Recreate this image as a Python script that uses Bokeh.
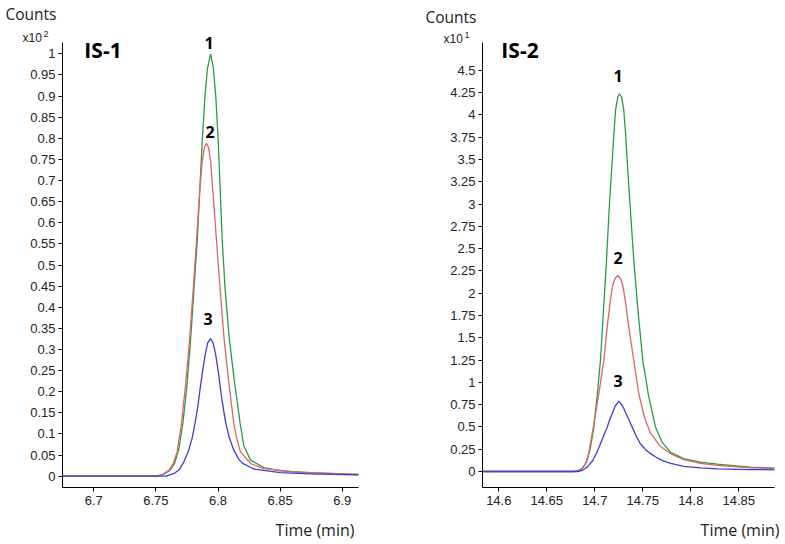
from bokeh.plotting import figure
from bokeh.layouts import row
from bokeh.models import Label, FixedTicker, Range1d
from bokeh.embed import file_html
from bokeh.resources import INLINE

# ---------------- data ----------------
# IS-1 : time (min) and counts (x10^2)
is1_green_t = [6.6748, 6.7500, 6.7560, 6.7610, 6.7650, 6.7685, 6.7717, 6.7750, 6.7779, 6.7806,
               6.7833, 6.7853, 6.7873, 6.7895, 6.7915, 6.7940, 6.7962, 6.7982, 6.8002, 6.8018,
               6.8034, 6.8058, 6.8092, 6.8132, 6.8178, 6.8208, 6.8262, 6.8369, 6.8503, 6.8771, 6.9131]
is1_green_v = [0.0, 0.0, 0.004, 0.013, 0.030, 0.065, 0.125, 0.215, 0.322, 0.440,
               0.558, 0.676, 0.794, 0.900, 0.965, 1.000, 0.968, 0.900, 0.794, 0.676,
               0.558, 0.440, 0.322, 0.225, 0.125, 0.072, 0.038, 0.0205, 0.0125, 0.008, 0.004]

is1_red_t = [6.6748, 6.7500, 6.7550, 6.7604, 6.7640, 6.7671, 6.7706, 6.7740, 6.7771, 6.7800,
             6.7827, 6.7853, 6.7873, 6.7890, 6.7907, 6.7924, 6.7941, 6.7958, 6.7988, 6.8018,
             6.8050, 6.8088, 6.8127, 6.8150, 6.8181, 6.8262, 6.8369, 6.8638, 6.9131]
is1_red_v = [0.0, 0.0, 0.004, 0.014, 0.030, 0.058, 0.125, 0.220, 0.322, 0.440,
             0.558, 0.676, 0.745, 0.778, 0.788, 0.778, 0.745, 0.676, 0.558, 0.440,
             0.322, 0.220, 0.125, 0.090, 0.058, 0.030, 0.018, 0.0095, 0.004]

is1_blue_t = [6.6748, 6.7580, 6.7644, 6.7690, 6.7725, 6.7760, 6.7792, 6.7815, 6.7837, 6.7855,
              6.7873, 6.7898, 6.7918, 6.7940, 6.7960, 6.7980, 6.8002, 6.8030, 6.8060, 6.8090,
              6.8125, 6.8165, 6.8195, 6.8288, 6.8503, 6.8800, 6.9131]
is1_blue_v = [0.0, 0.0, 0.006, 0.016, 0.034, 0.058, 0.090, 0.125, 0.164, 0.205,
              0.243, 0.290, 0.316, 0.3255, 0.316, 0.290, 0.248, 0.185, 0.130, 0.092,
              0.063, 0.041, 0.031, 0.017, 0.0087, 0.005, 0.003]

# IS-2 : time (min) and counts (x10^1)
is2_green_t = [14.5830, 14.6780, 14.6833, 14.6880, 14.6920, 14.6955, 14.6990, 14.7025, 14.7059, 14.7090,
               14.7122, 14.7150, 14.7181, 14.7200, 14.7216, 14.7240, 14.7258, 14.7280, 14.7302, 14.7320,
               14.7337, 14.7370, 14.7406, 14.7450, 14.7500, 14.7560, 14.7632, 14.7700, 14.7790, 14.7925,
               14.8100, 14.8275, 14.8620, 14.8872]
is2_green_v = [0.0, 0.0, 0.011, 0.045, 0.123, 0.270, 0.497, 0.850, 1.245, 1.800,
               2.367, 2.950, 3.489, 3.800, 4.050, 4.200, 4.237, 4.200, 4.050, 3.800,
               3.489, 2.950, 2.367, 1.800, 1.245, 0.850, 0.500, 0.330, 0.215, 0.145,
               0.105, 0.082, 0.050, 0.038]

is2_red_t = [14.5830, 14.6790, 14.6850, 14.6900, 14.6935, 14.6985, 14.7042, 14.7094, 14.7129, 14.7160,
             14.7185, 14.7210, 14.7240, 14.7268, 14.7293, 14.7320, 14.7354, 14.7406, 14.7458, 14.7520,
             14.7580, 14.7685, 14.7790, 14.7925, 14.8100, 14.8275, 14.8620, 14.8872]
is2_red_v = [0.0, 0.0, 0.015, 0.080, 0.198, 0.497, 0.872, 1.245, 1.619, 1.900,
             2.080, 2.165, 2.199, 2.165, 2.080, 1.900, 1.619, 1.245, 0.872, 0.600,
             0.430, 0.280, 0.200, 0.133, 0.090, 0.068, 0.042, 0.035]

is2_blue_t = [14.5830, 14.6820, 14.6870, 14.6930, 14.6979, 14.7020, 14.7059, 14.7095, 14.7129, 14.7155,
              14.7181, 14.7210, 14.7250, 14.7290, 14.7327, 14.7360, 14.7390, 14.7430, 14.7474, 14.7530,
              14.7580, 14.7640, 14.7700, 14.7790, 14.7925, 14.8100, 14.8275, 14.8600, 14.8872]
is2_blue_v = [0.0, 0.0, 0.012, 0.060, 0.123, 0.210, 0.311, 0.410, 0.497, 0.580,
              0.647, 0.730, 0.789, 0.735, 0.647, 0.570, 0.497, 0.400, 0.311, 0.245,
              0.200, 0.160, 0.125, 0.090, 0.058, 0.040, 0.030, 0.022, 0.019]

is1_y_ticks = [0, 0.05, 0.1, 0.15, 0.2, 0.25, 0.3, 0.35, 0.4, 0.45, 0.5,
               0.55, 0.6, 0.65, 0.7, 0.75, 0.8, 0.85, 0.9, 0.95, 1]
is1_y_labels = ["0", "0.05", "0.1", "0.15", "0.2", "0.25", "0.3", "0.35", "0.4", "0.45", "0.5",
                "0.55", "0.6", "0.65", "0.7", "0.75", "0.8", "0.85", "0.9", "0.95", "1"]
is1_x_ticks = [6.7, 6.75, 6.8, 6.85, 6.9]
is1_x_labels = ["6.7", "6.75", "6.8", "6.85", "6.9"]

is2_y_ticks = [0, 0.25, 0.5, 0.75, 1, 1.25, 1.5, 1.75, 2, 2.25, 2.5,
               2.75, 3, 3.25, 3.5, 3.75, 4, 4.25, 4.5]
is2_y_labels = ["0", "0.25", "0.5", "0.75", "1", "1.25", "1.5", "1.75", "2", "2.25", "2.5",
                "2.75", "3", "3.25", "3.5", "3.75", "4", "4.25", "4.5"]
is2_x_ticks = [14.6, 14.65, 14.7, 14.75, 14.8, 14.85]
is2_x_labels = ["14.6", "14.65", "14.7", "14.75", "14.8", "14.85"]

peak_labels = ["1", "2", "3"]

GREEN = "#2a9a48"
RED = "#e06464"
BLUE = "#3c3cdc"
TICK_FONT = "Liberation Sans"
TEXT_FONT = "Open Sans"

FIG_TOP = 0          # canvas top in picture pixels
FIG_H = 540
AX_TOP, AX_BOTTOM = 42, 487   # picture pixels of the axis box


class Panel:
    """Maps picture pixels to data for one figure whose frame fills the whole canvas."""
    def __init__(self, cx0, width, ax_left, ax_right, x_anchor_px, x_anchor_val, x_ppu,
                 y_zero_px, y_ppu):
        self.cx0, self.width = cx0, width
        self.x_ppu, self.y_ppu = x_ppu, y_ppu
        self.x_anchor_px, self.x_anchor_val = x_anchor_px, x_anchor_val
        self.y_zero_px = y_zero_px
        self.xr = (self.px2x(cx0), self.px2x(cx0 + width))
        self.yr = (self.py2y(FIG_TOP + FIG_H), self.py2y(FIG_TOP))
        self.xb = (self.px2x(ax_left), self.px2x(ax_right))
        self.yb = (self.py2y(AX_BOTTOM), self.py2y(AX_TOP))

    def px2x(self, px):
        return self.x_anchor_val + (px - self.x_anchor_px) / self.x_ppu

    def py2y(self, py):
        return (self.y_zero_px - py) / self.y_ppu


def make_fig(pan, x_ticks, x_labels, y_ticks, y_labels):
    p = figure(width=pan.width, height=FIG_H,
               x_range=Range1d(*pan.xr), y_range=Range1d(*pan.yr),
               output_backend="svg", toolbar_location=None,
               min_border_left=0, min_border_right=0, min_border_top=0, min_border_bottom=0)
    p.outline_line_color = None
    p.grid.visible = False
    p.background_fill_color = "white"
    p.border_fill_color = "white"
    for ax in (p.xaxis[0], p.yaxis[0]):
        ax.axis_line_color = "black"
        ax.axis_line_width = 1
        ax.major_tick_line_color = "black"
        ax.major_tick_in = 0
        ax.major_tick_out = 4
        ax.minor_tick_line_color = None
        ax.major_label_text_font = TICK_FONT
        ax.major_label_text_font_size = "13px"
        ax.major_label_text_color = "#222222"
    p.xaxis.ticker = FixedTicker(ticks=x_ticks)
    p.xaxis.major_label_overrides = dict(zip(x_ticks, x_labels))
    p.xaxis.major_label_standoff = 4
    p.xaxis.fixed_location = pan.yb[0]
    p.xaxis.bounds = pan.xb
    p.yaxis.ticker = FixedTicker(ticks=y_ticks)
    p.yaxis.major_label_overrides = dict(zip(y_ticks, y_labels))
    p.yaxis.major_label_standoff = 3
    p.yaxis.fixed_location = pan.xb[0]
    p.yaxis.bounds = pan.yb
    return p


def add_text(p, pan, text, px, py, size, font=TEXT_FONT, bold=False, align="left", color="black"):
    p.add_layout(Label(x=pan.px2x(px), y=pan.py2y(py), text=text, text_font=font,
                       text_font_size=size, text_font_style="bold" if bold else "normal",
                       text_align=align, text_baseline="middle", text_color=color))


# ---------------- left panel ----------------
left = Panel(cx0=0, width=398, ax_left=62, ax_right=358,
             x_anchor_px=93.3, x_anchor_val=6.7, x_ppu=1242.0, y_zero_px=475.7, y_ppu=422.4)
p1 = make_fig(left, is1_x_ticks, is1_x_labels, is1_y_ticks, is1_y_labels)
p1.line(is1_green_t, is1_green_v, line_color=GREEN, line_width=1.3)
p1.line(is1_red_t, is1_red_v, line_color=RED, line_width=1.3)
p1.line(is1_blue_t, is1_blue_v, line_color=BLUE, line_width=1.3)

add_text(p1, left, "Counts", 5, 13, "15.5px", color="#222222")
add_text(p1, left, "x10", 22, 37.5, "12px", font=TICK_FONT, color="#222222")
add_text(p1, left, "2", 43, 33, "9px", font=TICK_FONT, color="#222222")
add_text(p1, left, "IS-1", 102.5, 49, "21px", bold=True, align="center")
for lab, (px, py) in zip(peak_labels, [(208.5, 42), (209.5, 131), (207.5, 318.5)]):
    add_text(p1, left, lab, px, py, "16px", bold=True, align="center")
add_text(p1, left, "Time (min)", 354, 529, "16px", align="right", color="#222222")

# ---------------- right panel ----------------
right = Panel(cx0=398, width=384, ax_left=482, ax_right=774,
              x_anchor_px=498.3, x_anchor_val=14.6, x_ppu=960.0, y_zero_px=471.0, y_ppu=89.15)
p2 = make_fig(right, is2_x_ticks, is2_x_labels, is2_y_ticks, is2_y_labels)
p2.line(is2_green_t, is2_green_v, line_color=GREEN, line_width=1.3)
p2.line(is2_red_t, is2_red_v, line_color=RED, line_width=1.3)
p2.line(is2_blue_t, is2_blue_v, line_color=BLUE, line_width=1.3)

add_text(p2, right, "Counts", 425, 16, "15.5px", color="#222222")
add_text(p2, right, "x10", 443, 38, "12px", font=TICK_FONT, color="#222222")
add_text(p2, right, "1", 464, 34, "9px", font=TICK_FONT, color="#222222")
add_text(p2, right, "IS-2", 519.5, 49, "21px", bold=True, align="center")
for lab, (px, py) in zip(peak_labels, [(617.5, 75), (617.5, 257), (617.5, 380)]):
    add_text(p2, right, lab, px, py, "16px", bold=True, align="center")
add_text(p2, right, "Time (min)", 779, 529, "16px", align="right", color="#222222")

layout = row(p1, p2)
open("out.html", "w").write(file_html(layout, INLINE))
